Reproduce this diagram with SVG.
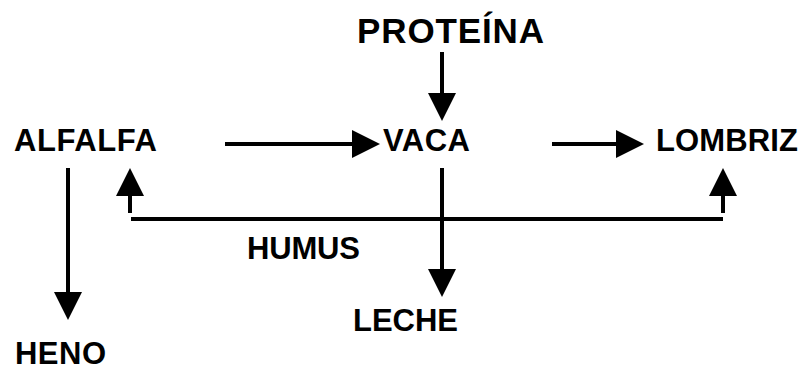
<svg xmlns="http://www.w3.org/2000/svg" width="799" height="370" viewBox="0 0 799 370">
  <style>
    .lbl { font-family: "Liberation Sans", Arial, sans-serif; font-weight: bold; font-size: 31px; fill: #000; }
    .big { font-size: 35px; }
    .arr { stroke: #000; stroke-width: 4; fill: none; marker-end: url(#head); }
    .bar { stroke: #000; stroke-width: 4; fill: none; }
  </style>
  <defs>
    <!-- solid triangular arrowhead, drawn from the end of each shaft -->
    <marker id="head" markerUnits="userSpaceOnUse" markerWidth="28" markerHeight="28" viewBox="0 0 28 28" refX="0" refY="14" orient="auto">
      <polygon points="0,0 28,14 0,28" fill="#000"/>
    </marker>
  </defs>
  <rect width="799" height="370" fill="#fff"/>

  <g id="connectors">
    <line class="arr" x1="225" y1="144" x2="352" y2="144"/>
    <line class="arr" x1="552" y1="144" x2="616" y2="144"/>
    <line class="arr" x1="442" y1="52" x2="442" y2="93"/>
    <line class="arr" x1="442" y1="168" x2="442" y2="269"/>
    <line class="arr" x1="68" y1="168" x2="68" y2="292"/>
    <line class="bar" x1="131" y1="219" x2="723" y2="219"/>
    <line class="arr" x1="130" y1="213" x2="130" y2="196"/>
    <line class="arr" x1="723" y1="213" x2="723" y2="196"/>
  </g>

  <g id="proteina"><text class="lbl big" x="357" y="43" textLength="187" lengthAdjust="spacing">PROTEÍNA</text></g>
  <g id="alfalfa"><text class="lbl" x="14" y="151" textLength="143" lengthAdjust="spacing">ALFALFA</text></g>
  <g id="vaca"><text class="lbl" x="383" y="151" textLength="87" lengthAdjust="spacing">VACA</text></g>
  <g id="lombriz"><text class="lbl" x="656" y="151" textLength="142" lengthAdjust="spacing">LOMBRIZ</text></g>
  <g id="humus"><text class="lbl" x="247" y="259" textLength="113" lengthAdjust="spacing">HUMUS</text></g>
  <g id="leche"><text class="lbl" x="353" y="331" textLength="105" lengthAdjust="spacing">LECHE</text></g>
  <g id="heno"><text class="lbl" x="15" y="364" textLength="91" lengthAdjust="spacing">HENO</text></g>
</svg>
